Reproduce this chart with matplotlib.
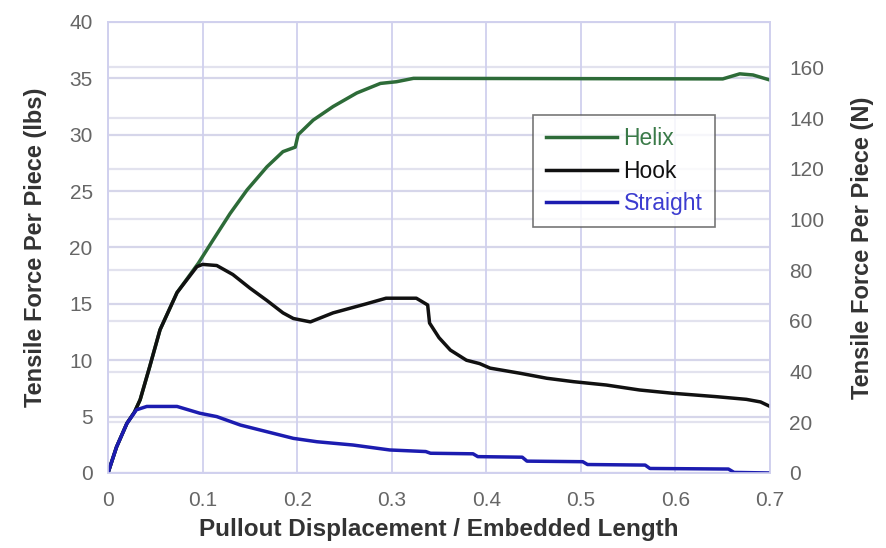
import matplotlib
matplotlib.use("Agg")
import matplotlib.pyplot as plt
import numpy as np

# values (lbs vs displacement ratio)
helix_x = [0, 0.009, 0.02, 0.028, 0.034, 0.044, 0.055, 0.073, 0.0955, 0.111, 0.129, 0.147,
           0.168, 0.185, 0.198, 0.201, 0.217, 0.238, 0.263, 0.288, 0.305, 0.323, 0.65,
           0.668, 0.682, 0.7]
helix_y = [0, 2.3, 4.4, 5.4, 6.5, 9.4, 12.7, 16.0, 18.6, 20.65, 23.0, 25.1,
           27.15, 28.5, 28.9, 30.0, 31.3, 32.5, 33.7, 34.55, 34.7, 35.0, 34.95,
           35.4, 35.3, 34.85]

hook_x = [0, 0.009, 0.02, 0.028, 0.034, 0.044, 0.055, 0.073, 0.094, 0.1, 0.115, 0.132,
          0.15, 0.168, 0.185, 0.196, 0.214, 0.238, 0.273, 0.294, 0.326, 0.338, 0.340,
          0.35, 0.362, 0.379, 0.393, 0.404, 0.436, 0.464, 0.492, 0.527, 0.562, 0.597,
          0.643, 0.675, 0.69, 0.7]
hook_y = [0, 2.3, 4.4, 5.4, 6.5, 9.4, 12.7, 16.0, 18.3, 18.5, 18.4, 17.6,
          16.4, 15.3, 14.2, 13.7, 13.4, 14.2, 15.0, 15.5, 15.5, 14.9, 13.3,
          12.0, 10.9, 10.0, 9.7, 9.3, 8.84, 8.4, 8.1, 7.8, 7.36, 7.07,
          6.77, 6.53, 6.3, 5.9]

straight_x = [0, 0.009, 0.02, 0.03, 0.041, 0.073, 0.097, 0.115, 0.14, 0.168, 0.196, 0.221,
              0.259, 0.298, 0.309, 0.336, 0.341, 0.386, 0.391, 0.438, 0.443, 0.502, 0.507,
              0.568, 0.573, 0.656, 0.662, 0.7]
straight_y = [0, 2.3, 4.4, 5.6, 5.9, 5.9, 5.3, 5.0, 4.25, 3.66, 3.07, 2.77,
              2.48, 2.04, 2.0, 1.9, 1.75, 1.7, 1.45, 1.4, 1.05, 1.0, 0.75,
              0.7, 0.4, 0.35, 0.05, 0.0]

x_ticks = [0, 0.1, 0.2, 0.3, 0.4, 0.5, 0.6, 0.7]
x_ticklabels = ["0", "0.1", "0.2", "0.3", "0.4", "0.5", "0.6", "0.7"]
lbs_ticks = [0, 5, 10, 15, 20, 25, 30, 35, 40]
n_ticks = [0, 20, 40, 60, 80, 100, 120, 140, 160]
LBS_TO_N = 4.448

plt.rcParams['font.family'] = ['Liberation Sans', 'DejaVu Sans']

fig = plt.figure(figsize=(8.86, 5.48), dpi=100)
ax = fig.add_axes([0.1219, 0.1369, 0.7472, 0.823])
ax2 = ax.twinx()

grid_c = '#d6d6ea'
ax.set_xlim(0, 0.7)
ax.set_ylim(0, 40)
ax2.set_ylim(0, 40 * LBS_TO_N)

for t in lbs_ticks:
    ax.axhline(t, color=grid_c, lw=1.6, zorder=0)
for t in n_ticks:
    ax.axhline(t / LBS_TO_N, color='#e2e2ee', lw=1.6, zorder=0)
for t in x_ticks:
    ax.axvline(t, color='#d0d0ee', lw=1.3, zorder=0)

ax.plot(helix_x, helix_y, color='#2d6b38', lw=2.5, label='Helix', zorder=3)
ax.plot(hook_x, hook_y, color='#111111', lw=2.5, label='Hook', zorder=4)
ax.plot(straight_x, straight_y, color='#1c1cb0', lw=2.5, label='Straight', zorder=5)

ax.set_xticks(x_ticks)
ax.set_xticklabels(x_ticklabels)
ax.set_yticks(lbs_ticks)
ax2.set_yticks(n_ticks)

tick_c = '#666666'
ax.tick_params(axis='x', length=0, labelsize=15, labelcolor=tick_c, pad=13)
ax.tick_params(axis='y', length=0, labelsize=15, labelcolor=tick_c, pad=11)
ax2.tick_params(axis='y', length=0, labelsize=15, labelcolor=tick_c, pad=14)

for a in (ax, ax2):
    for s in a.spines.values():
        s.set_color('#d0d0ee')
        s.set_linewidth(1.2)

lab_c = '#333333'
ax.set_xlabel("Pullout Displacement / Embedded Length", fontsize=17.5, fontweight='bold',
              color=lab_c, labelpad=6)
ax.set_ylabel("Tensile Force Per Piece (lbs)", fontsize=17, fontweight='bold',
              color=lab_c, labelpad=16)
ax2.set_ylabel("Tensile Force Per Piece (N)", fontsize=17, fontweight='bold',
               color=lab_c, labelpad=19)

leg = ax.legend(loc='upper left', bbox_to_anchor=(0.642, 0.794), fontsize=16.5,
                frameon=True, fancybox=False, handlelength=3.1, handletextpad=0.3,
                borderpad=0.55, labelspacing=0.4, borderaxespad=0)
leg.get_frame().set_edgecolor('#555555')
leg.get_frame().set_linewidth(1.2)
for txt, c in zip(leg.get_texts(), ['#3a7a48', '#111111', '#3c3cd0']):
    txt.set_color(c)

fig.savefig("out.png", dpi=100)
